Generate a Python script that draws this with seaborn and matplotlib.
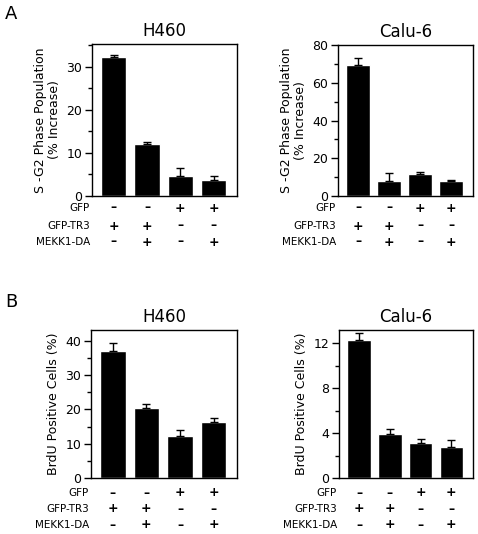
import numpy as np
import pandas as pd
import matplotlib
matplotlib.use("Agg")
import matplotlib.pyplot as plt
import seaborn as sns
from matplotlib.ticker import MultipleLocator

sns.set_style("ticks", {"text.color": "black", "axes.labelcolor": "black",
                        "xtick.color": "black", "ytick.color": "black",
                        "axes.edgecolor": "black"})
plt.rcParams['font.family'] = ['DejaVu Sans']

groups = ["g1", "g2", "g3", "g4"]
row_labels = ["GFP", "GFP-TR3", "MEKK1-DA"]
row_signs = [["–", "–", "+", "+"],
             ["+", "+", "–", "–"],
             ["–", "+", "–", "+"]]

# panel A: S-G2 phase population
a_h460 = [32.2, 12.1, 4.7, 3.8]
a_h460_err = [0.5, 0.4, 1.8, 0.9]
a_calu6 = [69.5, 7.8, 11.5, 7.8]
a_calu6_err = [3.5, 4.2, 1.0, 0.6]

# panel B: BrdU positive cells
b_h460 = [37.0, 20.3, 12.2, 16.4]
b_h460_err = [2.5, 1.2, 1.8, 1.1]
b_calu6 = [12.3, 3.9, 3.15, 2.8]
b_calu6_err = [0.6, 0.45, 0.35, 0.55]

W, H = 478, 534
fig = plt.figure(figsize=(W / 100, H / 100), dpi=100)


def px_axes(left, right, top, bottom):
    return fig.add_axes([left / W, (H - bottom) / H, (right - left) / W, (bottom - top) / H])


def draw_panel(ax, vals, errs, title, ylabel, ylim, major, minor, row_px):
    df = pd.DataFrame({"group": groups, "value": vals})
    sns.barplot(data=df, x="group", y="value", color="black", width=0.76,
                saturation=1, errorbar=None, ax=ax)
    x = np.arange(len(vals))
    ax.errorbar(x, vals, yerr=[np.zeros(len(errs)), errs], fmt="none",
                ecolor="black", elinewidth=1, capsize=3, capthick=1)
    ax.set_xlim(-0.65, 3.7)
    ax.set_ylim(*ylim)
    ax.yaxis.set_major_locator(MultipleLocator(major))
    ax.yaxis.set_minor_locator(MultipleLocator(minor))
    ax.tick_params(axis="y", which="major", length=5, width=1, labelsize=9, pad=2)
    ax.tick_params(axis="y", which="minor", length=3, width=1)
    ax.tick_params(axis="x", length=0, labelbottom=False)
    ax.set_xlabel("")
    ax.set_ylabel(ylabel, fontsize=9, linespacing=1.1)
    ax.set_title(title, fontsize=12, pad=6)
    for sp in ax.spines.values():
        sp.set_visible(True)
        sp.set_linewidth(1)
        sp.set_color("black")
    for r, (lab, signs) in enumerate(zip(row_labels, row_signs)):
        off = -row_px[r] * 0.72
        ax.annotate(lab, xy=(0, 0), xycoords="axes fraction", xytext=(-1.5, off),
                    textcoords="offset points", ha="right", va="center", fontsize=7.5)
        for i, s in enumerate(signs):
            ax.annotate(s, xy=(x[i], 0), xycoords=("data", "axes fraction"),
                        xytext=(0, off), textcoords="offset points",
                        ha="center", va="center", fontsize=9, fontweight="bold")


ax1 = px_axes(92, 237, 44, 196)
draw_panel(ax1, a_h460, a_h460_err, "H460", "S -G2 Phase Population\n(% Increase)",
           (0, 35.3), 10, 5, [12, 30, 46])
ax2 = px_axes(338, 473, 45, 196)
draw_panel(ax2, a_calu6, a_calu6_err, "Calu-6", "S -G2 Phase Population\n(% Increase)",
           (0, 80), 20, 10, [12, 30, 46])
ax3 = px_axes(91, 237, 330, 478)
draw_panel(ax3, b_h460, b_h460_err, "H460", "BrdU Positive Cells (%)",
           (0, 43.2), 10, 5, [15, 31, 47])
ax4 = px_axes(339, 473, 330, 478)
draw_panel(ax4, b_calu6, b_calu6_err, "Calu-6", "BrdU Positive Cells (%)",
           (0, 13.2), 4, 2, [15, 31, 47])

fig.text(5 / W, 1 - 14 / H, "A", fontsize=13, va="center", ha="left")
fig.text(5 / W, 1 - 302 / H, "B", fontsize=13, va="center", ha="left")

fig.savefig("out.png", dpi=100, facecolor="white")
